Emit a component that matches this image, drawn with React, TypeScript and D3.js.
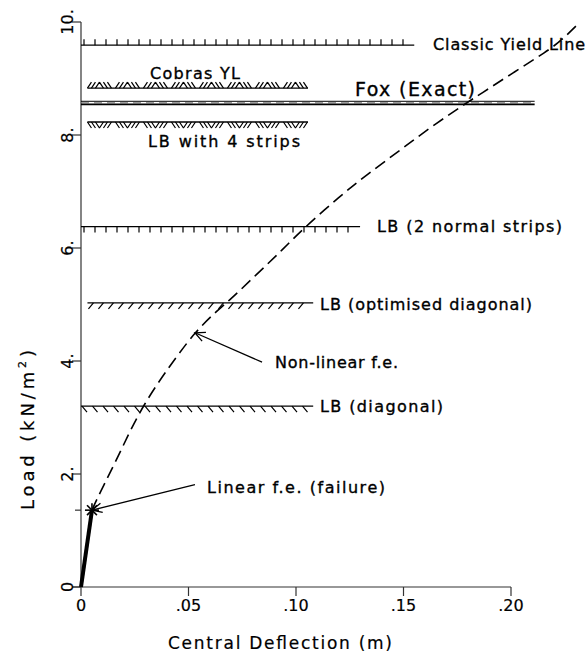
import React from 'react';
import * as d3 from 'd3';

// axes
const xTicks = [0, 0.05, 0.1, 0.15, 0.2];
const xTickLabels = ['0', '.05', '.10', '.15', '.20'];
const yTicks = [0, 2, 4, 6, 8, 10];
const yTickLabels = ['0', '2.', '4.', '6.', '8.', '10.'];

// collapse loads (kN/m2) drawn as horizontal lines, from / to deflection (m)
const limitNames = ['Classic Yield Line', 'Cobras YL', 'Fox (Exact)', 'LB with 4 strips', 'LB (2 normal strips)', 'LB (optimised diagonal)', 'LB (diagonal)'];
const limitLoads = [9.59, 8.83, 8.57, 8.23, 6.38, 5.03, 3.2];
const limitFrom = [0, 0.003, 0, 0.003, 0, 0.003, 0];
const limitTo = [0.155, 0.1056, 0.211, 0.1056, 0.1298, 0.108, 0.108];

// non-linear f.e. load-deflection curve
const nonlinDefl = [0.0051, 0.0079, 0.0181, 0.0284, 0.046, 0.053, 0.0614, 0.0679, 0.0819, 0.094, 0.1033, 0.1205, 0.133, 0.1484, 0.1623, 0.1786, 0.1856, 0.2009, 0.2167, 0.2237, 0.2321];
const nonlinLoad = [1.36, 1.6, 2.37, 3.22, 4.16, 4.5, 4.83, 5.03, 5.54, 5.98, 6.34, 6.92, 7.3, 7.73, 8.13, 8.55, 8.72, 9.1, 9.48, 9.68, 10.0];

// linear f.e. up to failure
const linDefl = [0, 0.0051];
const linLoad = [0, 1.36];

// look of each limit line + where its label sits (px)
const limitLook: any = {
  'Classic Yield Line': { hatch: 'ticks', side: -1, lx: 433, ly: 50, lw: 152, fs: 16 },
  'Cobras YL': { hatch: 'zigzag', side: -1, lx: 150, ly: 79, lw: 90, fs: 16 },
  'Fox (Exact)': { hatch: 'fox', side: 0, lx: 355, ly: 96, lw: 120, fs: 19 },
  'LB with 4 strips': { hatch: 'zigzag', side: 1, lx: 148, ly: 147, lw: 152, fs: 16 },
  'LB (2 normal strips)': { hatch: 'ticks', side: 1, lx: 377, ly: 232, lw: 185, fs: 16 },
  'LB (optimised diagonal)': { hatch: 'slash', side: 1, lx: 320, ly: 310, lw: 212, fs: 16 },
  'LB (diagonal)': { hatch: 'back', side: 1, lx: 320, ly: 412, lw: 123, fs: 16 },
};

const font = '"DejaVu Sans", "Liberation Sans", sans-serif';
const ink = { fill: '#000', stroke: '#000', strokeWidth: 0.35 };

const hatchPath = (x0: number, x1: number, y: number, kind: string, side: number) => {
  let d = '';
  if (kind === 'ticks') {
    for (let x = x0 + 3; x < x1 - 2; x += 11) d += `M${x},${y}L${x},${y + side * 6}`;
  } else if (kind === 'slash') {
    for (let x = x0 + 1; x < x1 - 5; x += 10) d += `M${x},${y + 6}L${x + 5},${y}`;
  } else if (kind === 'back') {
    for (let x = x0 + 1; x < x1 - 5; x += 10.5) d += `M${x},${y}L${x + 5},${y + 6}`;
  } else if (kind === 'zigzag') {
    const far = y + side * 6;
    for (let u = x0; u < x1 - 4; u += 28) {
      [0, 4, 8].forEach(o => { if (u + o + 4 <= x1) d += `M${u + o},${y}L${u + o + 4},${far}`; });
      [12, 16, 20].forEach(o => { if (u + o + 4 <= x1) d += `M${u + o},${far}L${u + o + 4},${y}`; });
    }
  }
  return d;
};

const arrowHead = (tip: number[], tail: number[]) => {
  const a = Math.atan2(tail[1] - tip[1], tail[0] - tip[0]);
  const l = 11, s = 0.45;
  const p1 = [tip[0] + l * Math.cos(a + s), tip[1] + l * Math.sin(a + s)];
  const p2 = [tip[0] + l * Math.cos(a - s), tip[1] + l * Math.sin(a - s)];
  return `M${p1[0]},${p1[1]}L${tip[0]},${tip[1]}L${p2[0]},${p2[1]}`;
};

const App = () => {
  const x = d3.scaleLinear().domain([0, 0.2]).range([81, 511]);
  const y = d3.scaleLinear().domain([0, 10]).range([587, 22]);

  const curve = d3.line<number>()
    .x(i => x(nonlinDefl[i]))
    .y(i => y(nonlinLoad[i]))
    .curve(d3.curveBasis)(nonlinDefl.map((_, i) => i));

  const linear = d3.line<number>()
    .x(i => x(linDefl[i]))
    .y(i => y(linLoad[i]))(linDefl.map((_, i) => i));

  const fail = [x(linDefl[1]), y(linLoad[1])];
  // annotation arrows (tail in data units)
  const nlTip = [x(nonlinDefl[5]), y(nonlinLoad[5])];
  const nlTail = [x(0.0842), y(3.98)];
  const lTail = [x(0.0530), y(1.81)];

  return (
    <svg width={588} height={662} style={{ position: 'absolute', left: 0, top: 0, background: '#fff' }}
      fontFamily={font}>
      {/* axes */}
      <line x1={x(0)} x2={x(0)} y1={y(0)} y2={y(10)} stroke="#333" strokeWidth={1.2} />
      <line x1={x(0) - 9} x2={x(0.2)} y1={y(0)} y2={y(0)} stroke="#333" strokeWidth={1.2} />
      {xTicks.map((t, i) => (
        <g key={'xt' + i}>
          <line x1={x(t)} x2={x(t)} y1={y(0)} y2={y(0) + 9} stroke="#333" strokeWidth={1.2} />
          <text x={x(t)} y={611} textAnchor="middle" fontSize={16} {...ink} strokeWidth={0.2}>{xTickLabels[i]}</text>
        </g>
      ))}
      {yTicks.map((t, i) => (
        <g key={'yt' + i}>
          <line x1={x(0) - 9} x2={x(0)} y1={y(t)} y2={y(t)} stroke="#333" strokeWidth={1.2} />
          <text transform={`translate(73,${y(t)}) rotate(-90)`} textAnchor="middle" fontSize={16} {...ink} strokeWidth={0.2}>{yTickLabels[i]}</text>
        </g>
      ))}
      <line x1={x(0) - 6} x2={x(0)} y1={fail[1]} y2={fail[1]} stroke="#333" strokeWidth={1.2} />
      <text x={168} y={649} fontSize={17} textLength={224} lengthAdjust="spacing" {...ink} strokeWidth={0.2}>Central Deflection (m)</text>
      <text transform="translate(34,510) rotate(-90)" fontSize={18} {...ink} strokeWidth={0.2} textLength={160} lengthAdjust="spacing">
        Load (kN/m<tspan fontSize={11} dy={-8}>2</tspan><tspan dy={8}>)</tspan>
      </text>

      {/* limit lines */}
      {limitNames.map((name, i) => {
        const lk = limitLook[name];
        const x0 = x(limitFrom[i]), x1 = x(limitTo[i]), yy = y(limitLoads[i]);
        return (
          <g key={name}>
            {lk.hatch === 'fox' ? (
              <g>
                <line x1={x0} x2={x1} y1={yy - 1.5} y2={yy - 1.5} stroke="#000" strokeWidth={1} />
                <line x1={x0} x2={x1} y1={yy} y2={yy} stroke="#777" strokeWidth={1} strokeDasharray="8,5" />
                <line x1={x0} x2={x1} y1={yy + 1.6} y2={yy + 1.6} stroke="#000" strokeWidth={1.8} />
              </g>
            ) : (
              <g>
                <line x1={x0} x2={x1} y1={yy} y2={yy} stroke="#000" strokeWidth={1.3} />
                <path d={hatchPath(x0, x1, yy, lk.hatch, lk.side)} stroke="#000" strokeWidth={1.2} fill="none" />
              </g>
            )}
            <text x={lk.lx} y={lk.ly} fontSize={lk.fs} textLength={lk.lw} lengthAdjust="spacing" {...ink}>{name}</text>
          </g>
        );
      })}

      {/* f.e. results */}
      <path d={curve || ''} fill="none" stroke="#000" strokeWidth={1.6} strokeDasharray="12,6" />
      <path d={linear || ''} fill="none" stroke="#000" strokeWidth={4} />
      <g stroke="#000" strokeWidth={1.6}>
        {[0, 45, 90, 135].map(a => (
          <line key={a}
            x1={fail[0] - 7 * Math.cos(a * Math.PI / 180)} y1={fail[1] - 7 * Math.sin(a * Math.PI / 180)}
            x2={fail[0] + 7 * Math.cos(a * Math.PI / 180)} y2={fail[1] + 7 * Math.sin(a * Math.PI / 180)} />
        ))}
      </g>

      {/* annotations */}
      <g stroke="#000" strokeWidth={1.3} fill="none">
        <line x1={nlTail[0]} y1={nlTail[1]} x2={nlTip[0]} y2={nlTip[1]} />
        <path d={arrowHead(nlTip, nlTail)} />
        <line x1={lTail[0]} y1={lTail[1]} x2={fail[0]} y2={fail[1]} />
        <path d={arrowHead(fail, lTail)} />
      </g>
      <text x={275} y={368} fontSize={16} textLength={123} lengthAdjust="spacing" {...ink}>Non-linear f.e.</text>
      <text x={207} y={493} fontSize={16} textLength={178} lengthAdjust="spacing" {...ink}>Linear f.e. (failure)</text>
    </svg>
  );
};

export default App;
